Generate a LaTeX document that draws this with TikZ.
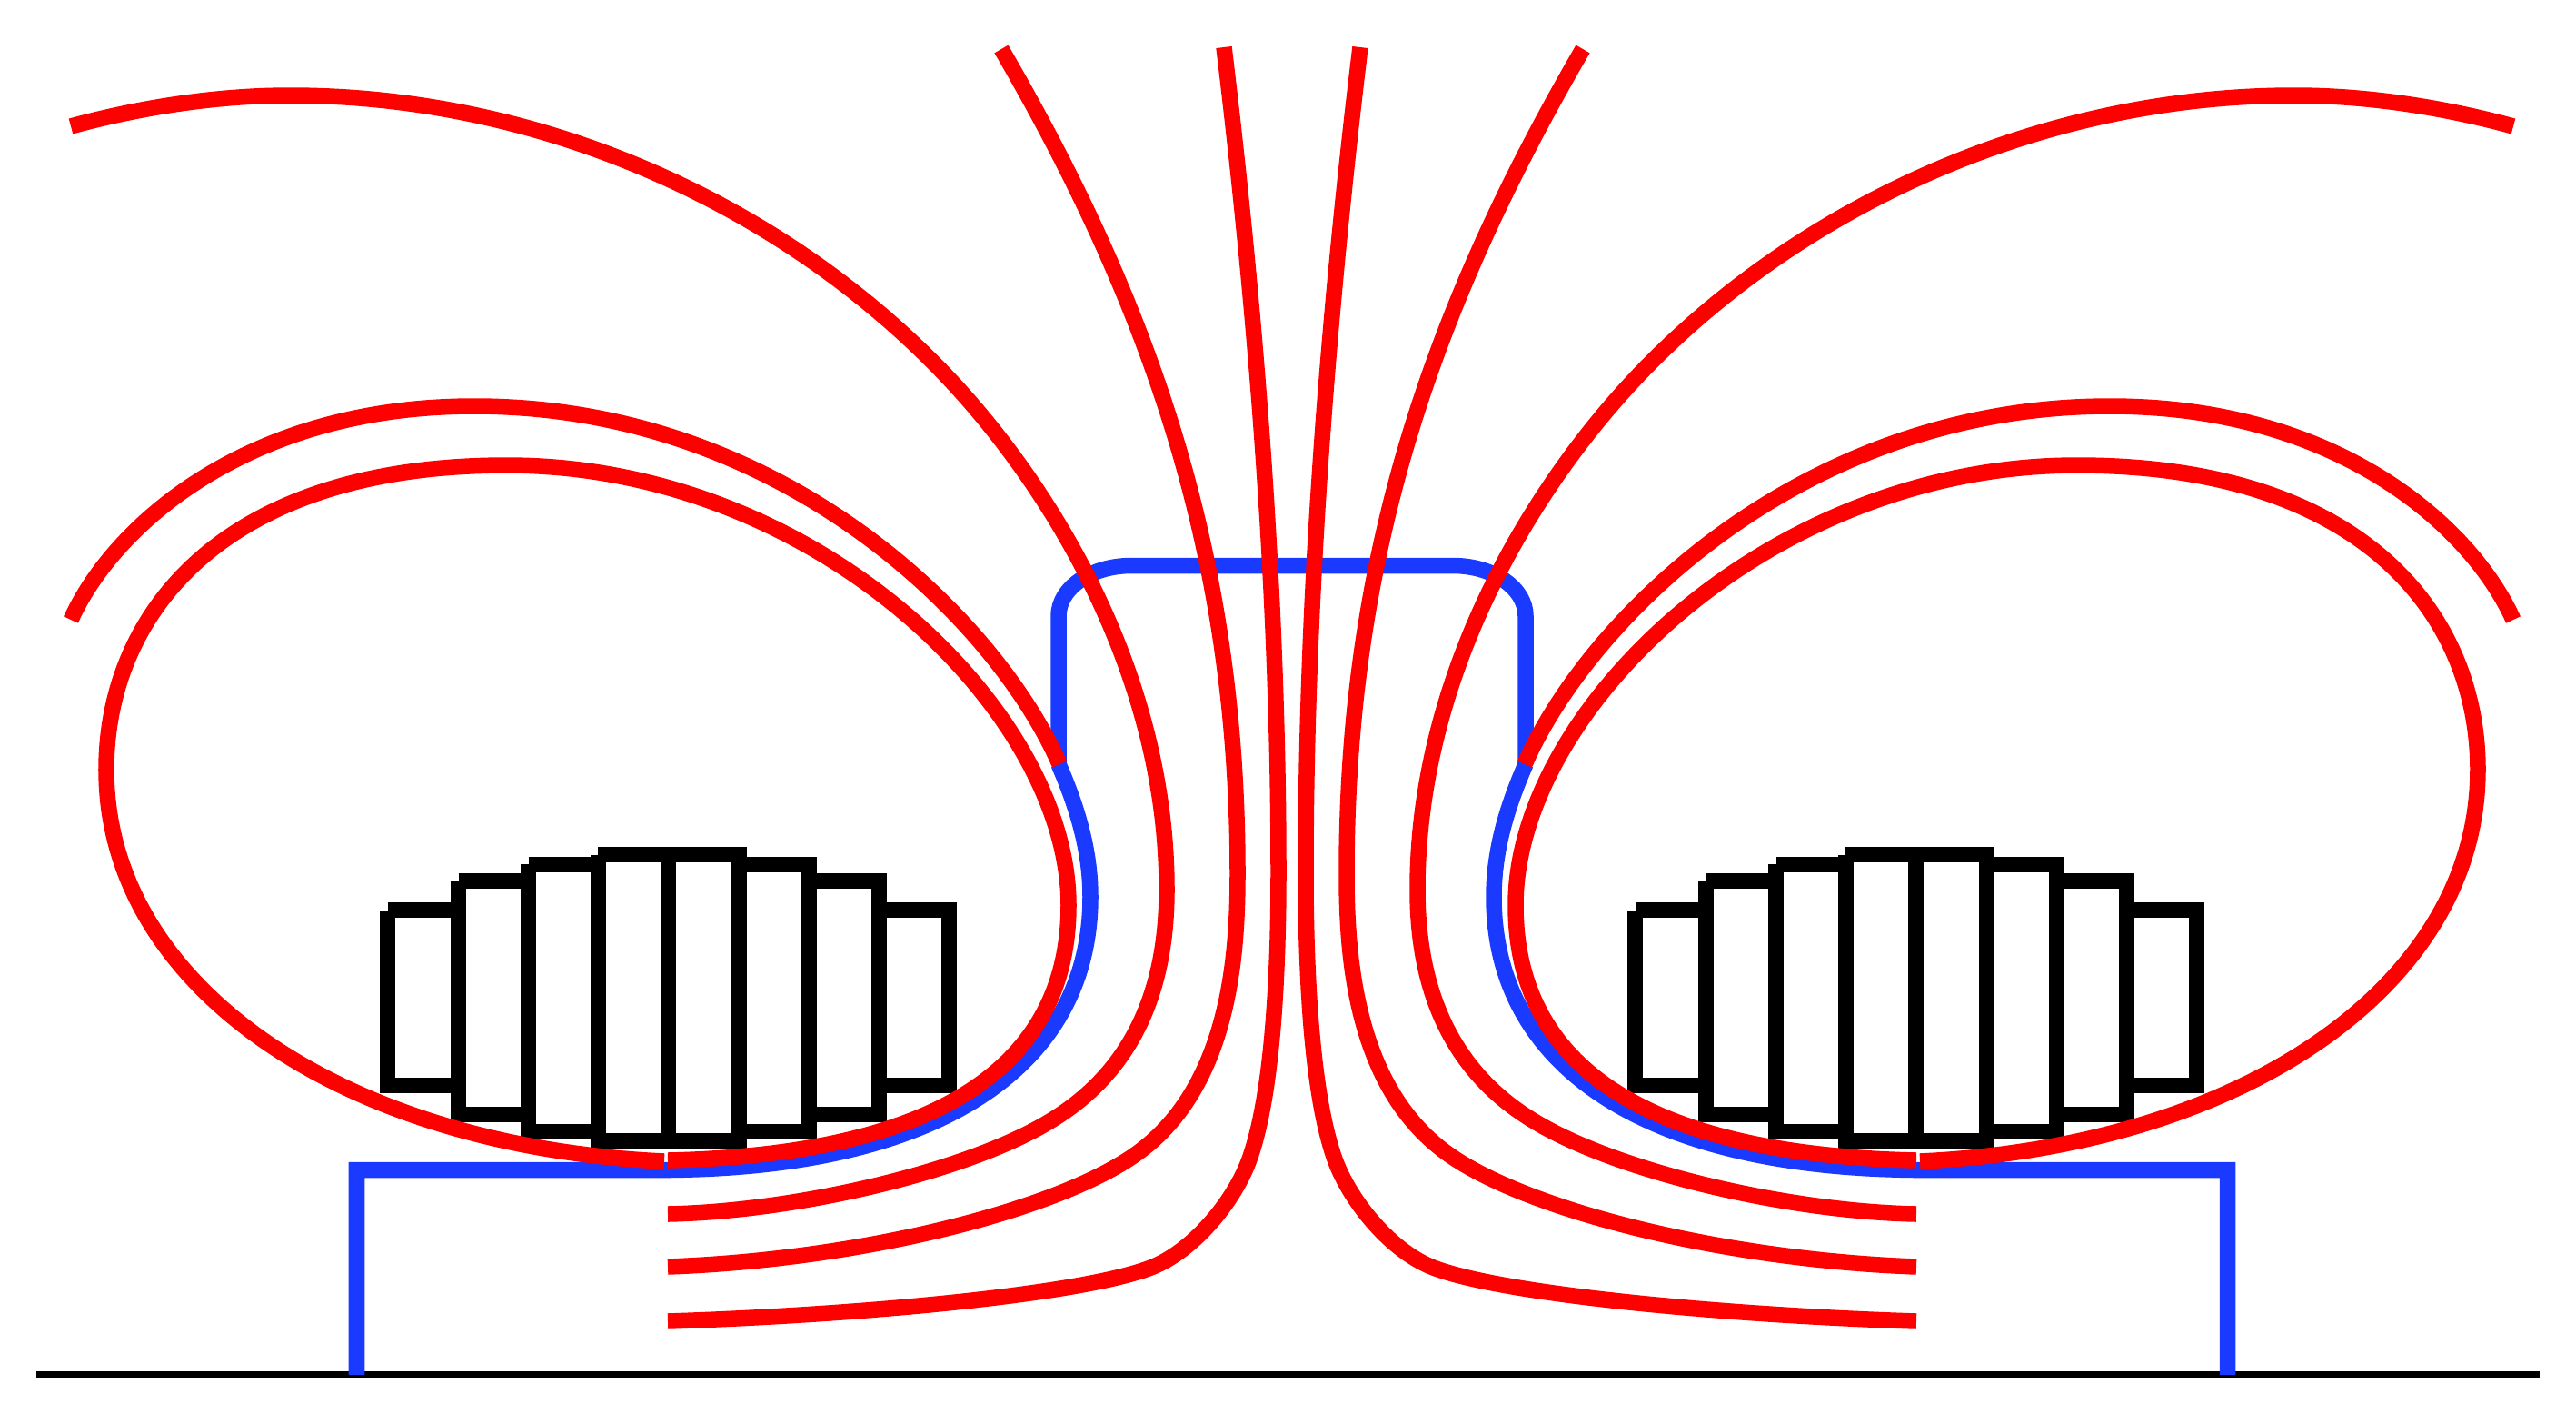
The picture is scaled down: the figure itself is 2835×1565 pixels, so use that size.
\documentclass[tikz,border=0pt]{standalone}
\definecolor{linkblue}{RGB}{26,58,255}
\tikzset{
  fieldline/.style={line width=0.175cm, red},
  returnline/.style={line width=0.175cm, linkblue},
  coilline/.style={line width=0.17cm, black},
}
\begin{document}
\begin{tikzpicture}[x=0.01cm,y=-0.01cm]
\useasboundingbox (0,0) rectangle (2835,1565);
%%% coil windings, left then right
\foreach \xs in {0,1373}{
  \foreach \xa/\xb/\hh in {426.5/504.5/96.5, 504.5/581.5/128.5, 581.5/658/147, 658/735/157.5, 735/813.5/157.5, 813.5/890.5/147, 890.5/967.5/128.5, 967.5/1044.5/96.5}{
    \draw[coilline] (\xa+\xs,1098-\hh) -- (\xb+\xs,1098-\hh) -- (\xb+\xs,1098+\hh) -- (\xa+\xs,1098+\hh) -- (\xa+\xs,1098-\hh);
  }
}
%%% base line
\draw[line width=0.08cm, black] (40,1513) -- (2795,1513);
%%% iron path
\draw[returnline] (1165,841) -- (1165,678) .. controls (1165,647) and (1201,622.5) .. (1245,622.5) -- (1599,622.5) .. controls (1643,622.5) and (1679,647) .. (1679,678) -- (1679,841);
\foreach \sx/\off in {1/0,-1/2844}{
  \begin{scope}[xshift=\off*0.01cm,xscale=\sx]
  \draw[returnline] (392.5,1513) -- (392.5,1287.5) -- (735,1287.5) .. controls (1040,1285) and (1200,1170) .. (1200,987) .. controls (1200,935) and (1185,887) .. (1165,841);
  %%% closed loop
  \draw[fieldline] (735,1277) .. controls (1045,1270) and (1176,1166) .. (1176,996) .. controls (1176,783) and (899,512) .. (558,512) .. controls (240,512) and (117,680) .. (117,847) .. controls (117,1087) and (380,1262) .. (731,1278);
  %%% upper loop, ends on the iron
  \draw[fieldline] (78,682) .. controls (123,582) and (268,447) .. (522,447) .. controls (864,447) and (1098,685) .. (1166,841);
  %%% lines through the gap
  \draw[fieldline] (78,139) .. controls (155,118) and (239,105) .. (319,105) .. controls (579,105) and (832,211) .. (1012,384) .. controls (1142,508) and (1284,729) .. (1284,979) .. controls (1284,1070) and (1259,1171) .. (1157,1233) .. controls (1068,1288) and (880,1333) .. (735,1336);
  \draw[fieldline] (1102,54) .. controls (1267,338) and (1362,611) .. (1362,961) .. controls (1362,1050) and (1354,1200) .. (1246,1273) .. controls (1159,1332) and (950,1386) .. (735,1394);
  \draw[fieldline] (1347,52) .. controls (1383,349) and (1407,660) .. (1407,960) .. controls (1407,1060) and (1402,1197) .. (1376,1273) .. controls (1360,1320) and (1315,1375) .. (1269,1394) .. controls (1195,1424) and (950,1447) .. (735,1454);
  \end{scope}
}
\end{tikzpicture}
\end{document}
